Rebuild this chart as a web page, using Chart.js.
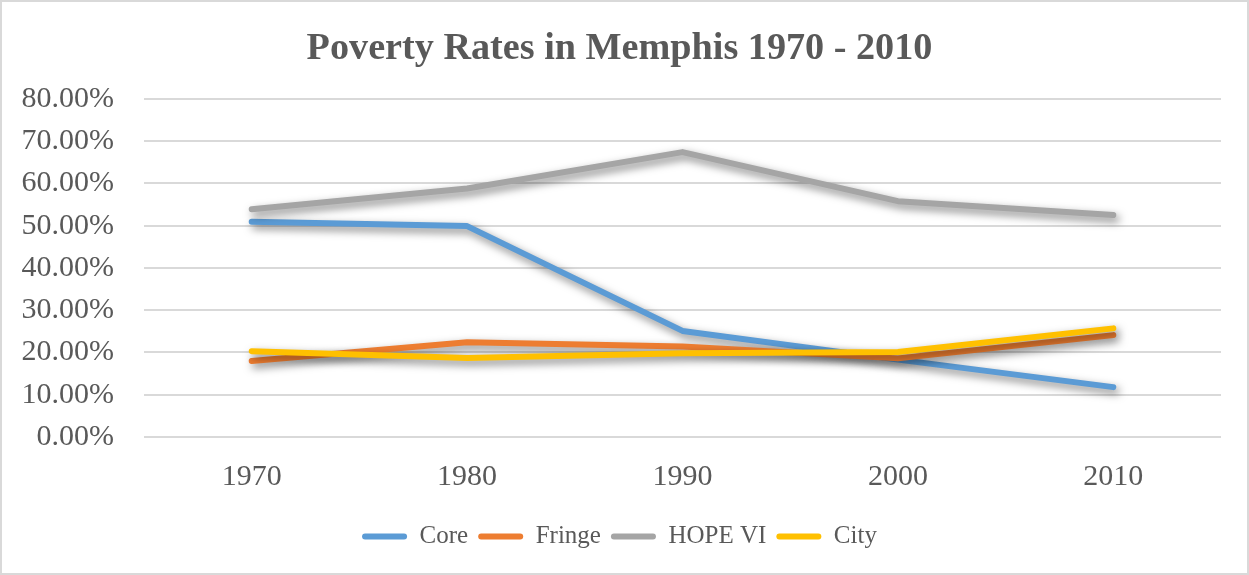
<!DOCTYPE html>
<html>
<head>
<meta charset="utf-8">
<script src="https://cdn.jsdelivr.net/npm/chart.js@4/dist/chart.umd.min.js"></script>
<style>
  html, body { margin: 0; padding: 0; background: #fff; }
  #wrap { width: 1249px; height: 575px; box-sizing: border-box; border: 2px solid #d9d9d9; position: relative; }
</style>
</head>
<body>
<div id="wrap"><canvas id="poverty"></canvas></div>
<script>
'use strict';

// data
const years = ["1970", "1980", "1990", "2000", "2010"];
const core = [50.9, 49.9, 25.1, 18.3, 11.8];
const fringe = [18.0, 22.4, 21.4, 18.6, 24.1];
const hopeVI = [53.9, 58.8, 67.4, 55.8, 52.5];
const city = [20.3, 18.7, 19.8, 20.1, 25.7];

const textGray = '#595959';
const serif = '"Liberation Serif", "Times New Roman", serif';

// soft drop shadow under the lines, like the Office style
const shadowPlugin = {
  id: 'lineShadow',
  beforeDatasetsDraw(chart) {
    const c = chart.ctx;
    c.save();
    c.shadowColor = 'rgba(0,0,0,0.5)';
    c.shadowBlur = 8;
    c.shadowOffsetX = 3;
    c.shadowOffsetY = 4;
  },
  afterDatasetsDraw(chart) {
    chart.ctx.restore();
  }
};

function series(label, data, color, order) {
  return {
    label: label,
    data: data,
    borderColor: color,
    backgroundColor: color,
    borderWidth: 6,
    borderCapStyle: 'round',
    borderJoinStyle: 'round',
    pointRadius: 0,
    tension: 0,
    order: order
  };
}

function main() {
  const ctx = document.getElementById('poverty');

  window.povertyChart = new Chart(ctx, {
    type: 'line',
    data: {
      labels: years,
      datasets: [
        series('Core', core, '#5b9bd5', 3),
        series('Fringe', fringe, '#ed7d31', 2),
        series('HOPE VI', hopeVI, '#a5a5a5', 1),
        series('City', city, '#ffc000', 0)
      ]
    },
    plugins: [shadowPlugin],
    options: {
      responsive: true,
      maintainAspectRatio: false,
      animation: false,
      layout: {
        padding: { left: 16, right: 26, top: 24, bottom: 14 }
      },
      plugins: {
        title: {
          display: true,
          text: 'Poverty Rates in Memphis 1970 - 2010',
          color: textGray,
          font: { family: serif, size: 38.2, weight: 'bold' },
          padding: { top: 0, bottom: 27 }
        },
        legend: {
          display: true,
          position: 'bottom',
          labels: {
            color: textGray,
            font: { family: serif, size: 25 },
            boxWidth: 45,
            boxHeight: 6,
            useBorderRadius: true,
            borderRadius: 3,
            padding: 10,
            sort: (a, b) => a.datasetIndex - b.datasetIndex,
            generateLabels: function (chart) {
              const items = Chart.defaults.plugins.legend.labels.generateLabels(chart);
              items.forEach(it => { it.lineWidth = 0; });
              return items;
            }
          }
        },
        tooltip: { enabled: false }
      },
      scales: {
        x: {
          offset: true,
          grid: { display: false },
          border: { display: false },
          afterFit: function (scale) { scale.height += 5; },
          ticks: {
            color: textGray,
            padding: 14,
            font: { family: serif, size: 30 }
          }
        },
        y: {
          min: 0,
          max: 80,
          border: { display: false },
          grid: { color: '#d9d9d9', lineWidth: 2, drawTicks: false },
          afterFit: function (scale) { scale.width = 126; },
          ticks: {
            stepSize: 10,
            color: textGray,
            padding: 30,
            font: { family: serif, size: 30 },
            callback: v => v.toFixed(2) + '%'
          }
        }
      }
    }
  });
}

main();
</script>
</body>
</html>
